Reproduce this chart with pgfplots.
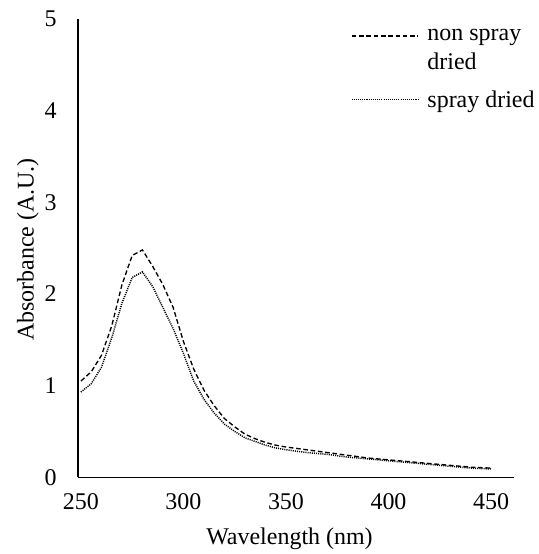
\documentclass[border=0pt]{standalone}
\usepackage{pgfplots}
\pgfplotsset{compat=1.18}
\usepackage{fontspec}
\setmainfont{Liberation Serif}
\pgfplotsset{
  raisedlegend/.style={legend image code/.code={\draw[##1] (0pt,11pt) -- (50pt,11pt); \path[draw=none] (0pt,-11pt) -- (55pt,-11pt);}},
  flatlegend/.style={legend image code/.code={\draw[##1] (0pt,0pt) -- (50pt,0pt); \path[draw=none] (0pt,0pt) -- (55pt,0pt);}},
}
\pgfplotstableread{
x y
250 1.05
255 1.15
260 1.33
265 1.65
270 2.10
275 2.42
280 2.48
285 2.30
290 2.10
295 1.85
300 1.48
305 1.18
310 0.95
315 0.78
320 0.64
325 0.55
330 0.47
335 0.42
340 0.38
345 0.35
350 0.33
360 0.30
370 0.27
380 0.24
390 0.21
400 0.19
410 0.17
420 0.15
430 0.13
440 0.11
450 0.10
}\nonspray
\pgfplotstableread{
x y
250 0.93
255 1.02
260 1.20
265 1.52
270 1.90
275 2.18
280 2.24
285 2.08
290 1.85
295 1.62
300 1.35
305 1.05
310 0.85
315 0.70
320 0.58
325 0.50
330 0.43
335 0.39
340 0.35
345 0.32
350 0.30
360 0.27
370 0.25
380 0.22
390 0.20
400 0.18
410 0.16
420 0.14
430 0.12
440 0.10
450 0.09
}\spray
\begin{document}
\begin{tikzpicture}
\begin{axis}[
  scale only axis,
  width=327.75pt, height=344.25pt,
  xmin=248.5, xmax=461.3,
  ymin=0, ymax=5,
  axis x line=bottom, axis y line=left,
  axis line style={line width=1.1pt, -},
  xtick={250,300,...,450}, ytick={0,1,...,5},
  major tick length=0pt,
  font=\fontsize{18}{21.6}\selectfont,
  /pgf/number format/assume math mode=true,
  yticklabel style={xshift=-12.5pt},
  xticklabel style={yshift=-9pt},
  xlabel={Wavelength (nm)},
  ylabel={Absorbance (A.U.)},
  xlabel style={at={(axis description cs:0.485,-0.134)}, anchor=center},
  ylabel style={at={(axis description cs:-0.1144,0.497)}, anchor=center},
  legend style={draw=none, fill=none, at={(axis description cs:0.625,0.983)}, anchor=north west,
    inner sep=0pt, row sep=10pt, nodes={align=left, inner sep=2pt}, legend cell align=left},
]
\addplot[black, line width=1pt, dash pattern=on 3.5pt off 2pt, raisedlegend] table {\nonspray};
\addlegendentry{non spray\\dried}
\addplot[black, line width=1.1pt, dash pattern=on 0.8pt off 0.8pt, flatlegend] table {\spray};
\addlegendentry{spray dried}
\end{axis}
\path[use as bounding box] (-58.5pt,-57pt) rectangle (345.75pt,358.5pt);
\end{tikzpicture}
\end{document}
